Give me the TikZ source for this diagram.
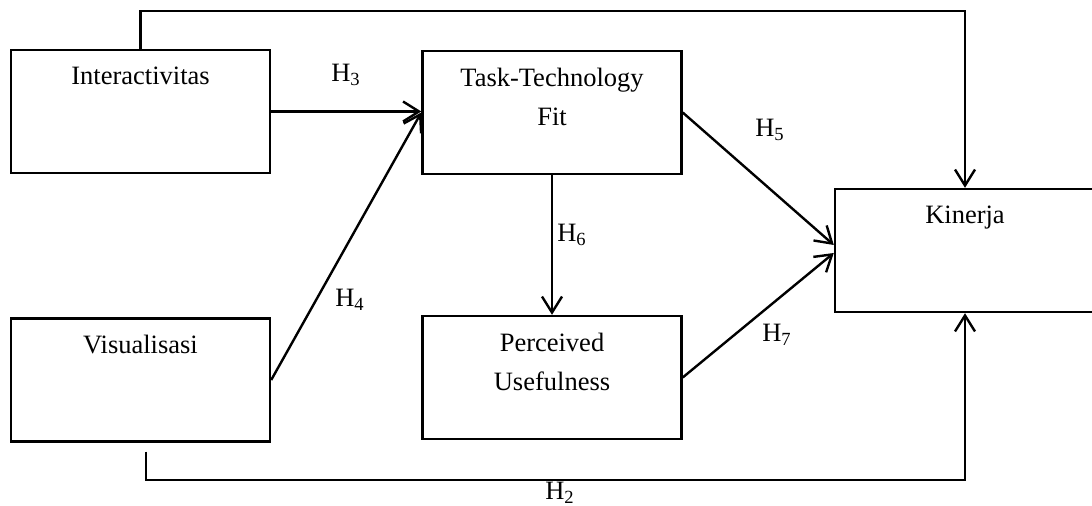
\documentclass[tikz,border=0pt]{standalone}
\usepackage{fontspec}
\setmainfont{Liberation Serif}
\usetikzlibrary{arrows.meta,positioning}

\tikzset{
  konstruk/.style={draw, line width=1.2pt, minimum width=129.5pt, minimum height=61.5pt, inner sep=0pt},
  judul/.style={anchor=north, yshift=-5.5pt, align=center, font=\fontsize{13.25}{19.5}\selectfont},
  panah/.style={line width=1.2pt, -{Straight Barb[length=8pt,width=10pt,line width=1.2pt]}},
  hipo/.style={font=\fontsize{13.25}{15}\selectfont}
}

\begin{document}
\begin{tikzpicture}[x=0.5pt,y=-0.5pt]
    \clip (0,0) rectangle (1092,506);
    \def\L{140.5}
    \def\M{552}
    \node[konstruk, label={[judul]north:Interactivitas}] (inter) at (\L,111.5) {};
    \node[konstruk, label={[judul]north:Visualisasi}] (visu) at (\L,380) {};
    \node[konstruk, label={[judul]north:Task-Technology\\Fit}] (ttf) at (\M,112.5) {};
    \node[konstruk, label={[judul]north:Perceived\\Usefulness}] (pu) at (\M,377.5) {};
    \node[konstruk, minimum width=130pt, label={[judul]north:Kinerja}] (kin) at (965,250.5) {};
    \coordinate (atas) at (965,11);
    \coordinate (bawah) at (965,480);
    \draw[panah] (inter.east) -- (inter.east -| ttf.west);
    \draw[panah] (visu.east) -- (ttf.west);
    \draw[panah] (ttf.south) -- (pu.north);
    \draw[panah] (ttf.east) -- ([yshift=2.75pt]kin.west);
    \draw[panah] (pu.east) -- ([yshift=-1.25pt]kin.west);
    \draw[panah] (inter.north) |- (atas) -- (kin.north);
    \draw[panah] ([xshift=2.75pt,yshift=-4.5pt]visu.south) |- (bawah) -- (kin.south);
    \foreach \x/\y/\n/\h in {346/75/h3/3, 350/300/h4/4, 770/130/h5/5,%
    572/235/h6/6, 777/335/h7/7, 560/493/h2/2}
    {
    \node[hipo] (\n) at (\x,\y) {H\textsubscript{\h}};
    }
\end{tikzpicture}
\end{document}
